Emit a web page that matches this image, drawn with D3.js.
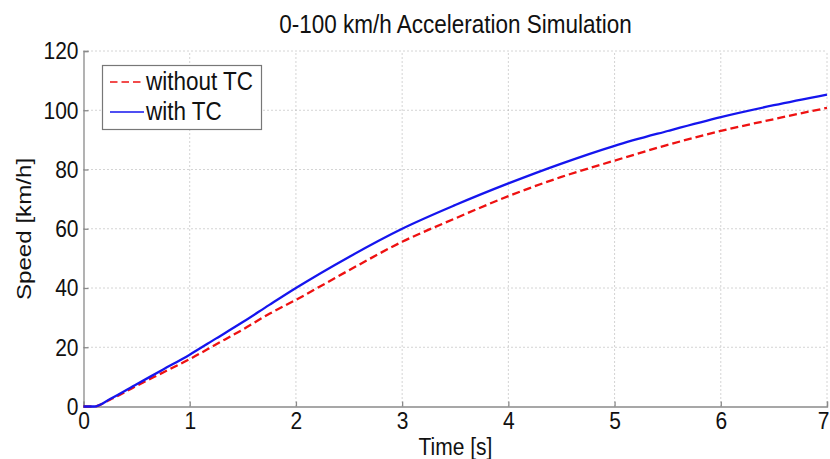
<!DOCTYPE html>
<html><head><meta charset="utf-8">
<script src="https://cdn.jsdelivr.net/npm/d3@7"></script>
<style>body{margin:0;background:#fff}svg{display:block}text{font-family:"Liberation Sans",Arial,sans-serif}
.sy{transform-box:fill-box;transform-origin:center;transform:scaleY(1.15)}</style>
</head><body><div id="chart"></div>
<script>
const title = "0-100 km/h Acceleration Simulation";
const xLabel = "Time [s]";
const yLabel = "Speed [km/h]";
const xTicks = [0,1,2,3,4,5,6,7];
const yTicks = [0,20,40,60,80,100,120];
const time =      [0, 0.1, 0.25, 0.5, 0.75, 1, 1.25, 1.5, 1.75, 2, 2.5, 3, 3.5, 4, 4.5, 5, 5.5, 6, 6.5, 7];
const withTC =    [0, 0, 2.5, 7.5, 12.5, 17.5, 23, 28.5, 34.3, 40, 50.5, 60, 68, 75.3, 82, 88, 93, 97.7, 101.7, 105.3];
const withoutTC = [0, 0, 2.3, 7, 11.5, 16, 21, 26, 31.3, 36, 46, 55.6, 63.5, 71, 77.5, 83, 88.3, 93, 97, 100.8];
const seriesNames = ["without TC", "with TC"];

const W = 830, H = 459;
const m = {left: 83.5, right: 3, top: 51, bottom: 52.5};
const SY = 1.15;
const svg = d3.select("#chart").append("svg").attr("width", W).attr("height", H);
const x = d3.scaleLinear().domain([0,7]).range([m.left, W - m.right]);
const y = d3.scaleLinear().domain([0,120]).range([H - m.bottom, m.top]);

// grid
const g = svg.append("g");
g.selectAll(".vg").data(xTicks.slice(1)).join("line")
  .attr("x1", d => x(d)).attr("x2", d => x(d)).attr("y1", y(0)).attr("y2", y(120))
  .attr("stroke", "#a8a8a8").attr("stroke-width", 1).attr("stroke-dasharray", "1,3");
g.selectAll(".hg").data(yTicks.slice(1)).join("line")
  .attr("x1", x(0)).attr("x2", x(7)).attr("y1", d => y(d)).attr("y2", d => y(d))
  .attr("stroke", "#a8a8a8").attr("stroke-width", 1).attr("stroke-dasharray", "1,3");

// axes
const xAxis = d3.axisBottom(x).tickValues(xTicks).tickSize(-5).tickPadding(7).tickFormat(d3.format("d"));
const yAxis = d3.axisLeft(y).tickValues(yTicks).tickSize(-5).tickPadding(5).tickFormat(d3.format("d"));
const gx = svg.append("g").attr("transform", `translate(0,${y(0)})`).call(xAxis);
const gy = svg.append("g").attr("transform", `translate(${x(0)},0)`).call(yAxis);
[gx, gy].forEach(a => {
  a.select(".domain").attr("stroke", "#8a8a8a").attr("stroke-width", 1.3);
  a.selectAll(".tick line").attr("stroke", "#8a8a8a").attr("stroke-width", 1.3);
  a.selectAll(".tick text").attr("fill", "#111").attr("class", "sy")
    .style("font-size", "21px").style("font-family", "Liberation Sans, Arial, sans-serif");
});
gx.selectAll(".tick text").filter(d => d === 7).attr("text-anchor", "end").attr("x", 2);

// lines
const line = vals => d3.line().x((d,i) => x(time[i])).y(d => y(d)).curve(d3.curveMonotoneX)(vals);
svg.append("path").attr("d", line(withoutTC)).attr("fill", "none")
  .attr("stroke", "#ee1111").attr("stroke-width", 2.3).attr("stroke-dasharray", "8,4");
svg.append("path").attr("d", line(withTC)).attr("fill", "none")
  .attr("stroke", "#1515ee").attr("stroke-width", 2.3);

// title & labels
function label(tx, ty, rot, size, txt, anchor) {
  svg.append("g").attr("transform", `translate(${tx},${ty}) scale(1,${SY}) rotate(${rot})`)
    .append("text").attr("text-anchor", anchor || "middle").style("font-size", size + "px")
    .attr("fill", "#111").text(txt);
}
label(455.5, 33, 0, 22.5, title);
label(455.5, 455, 0, 21, xLabel);
label(31, 229, -90, 21, yLabel);

// legend
const lg = svg.append("g");
lg.append("rect").attr("x", 102.5).attr("y", 65.5).attr("width", 159).attr("height", 64)
  .attr("fill", "#fff").attr("stroke", "#777").attr("stroke-width", 1.2);
const styles = [{c:"#ee1111", dash:"7.5,4"}, {c:"#1515ee", dash:null}];
seriesNames.forEach((n, i) => {
  const yy = 82 + i * 30;
  lg.append("line").attr("x1", 110).attr("x2", 144).attr("y1", yy).attr("y2", yy)
    .attr("stroke", styles[i].c).attr("stroke-width", 1.5).attr("stroke-dasharray", styles[i].dash);
  lg.append("g").attr("transform", `translate(146,${yy + 8}) scale(1,${SY})`)
    .append("text").style("font-size", "22.5px").attr("fill", "#111").text(n);
});
</script></body></html>
